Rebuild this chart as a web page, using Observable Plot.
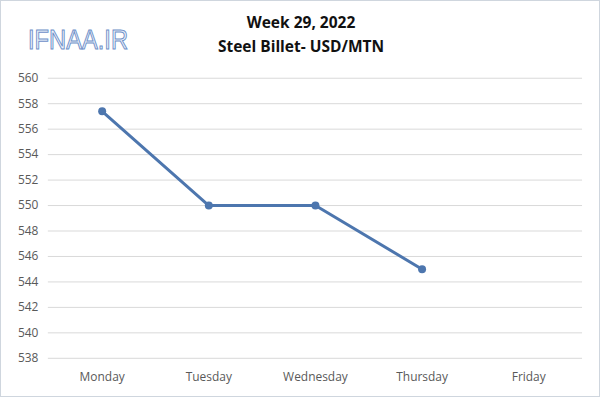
<!DOCTYPE html>
<html>
<head>
<meta charset="utf-8">
<script src="https://cdn.jsdelivr.net/npm/d3@7"></script>
<script src="https://cdn.jsdelivr.net/npm/@observablehq/plot@0.6"></script>
<style>
  html, body { margin: 0; padding: 0; background: #fff; }
  #wrap { position: relative; width: 600px; height: 397px; box-sizing: border-box; border: 1.5px solid #cfd6de; overflow: hidden; }
  #chart { position: absolute; left: 0; top: 0; }
  .title { position: absolute; left: 0; width: 600px; text-align: center; font-family: "Open Sans", sans-serif; font-weight: bold; font-size: 15.5px; color: #111; line-height: 20px; }
  #logo { position: absolute; left: 20px; top: 14px; }
</style>
</head>
<body>
<div id="wrap">
  <div id="chart"></div>
  <div class="title" style="top:11px">Week 29, 2022</div>
  <div class="title" style="top:35px">Steel Billet- USD/MTN</div>
  <svg id="logo" width="120" height="46"><text x="7" y="34" font-family="Liberation Sans Narrow, Liberation Sans, sans-serif" font-size="27" textLength="100" lengthAdjust="spacingAndGlyphs" fill="#eef3fb" stroke="#6d8fc8" stroke-width="1">IFNAA.IR</text></svg>
</div>
<script>
const days = ["Monday", "Tuesday", "Wednesday", "Thursday", "Friday"];
const priceDays = ["Monday", "Tuesday", "Wednesday", "Thursday"];
const prices = [557.4, 550, 550, 545];
const yTicks = [538, 540, 542, 544, 546, 548, 550, 552, 554, 556, 558, 560];

const data = priceDays.map((d, i) => ({day: d, price: prices[i]}));

const chart = Plot.plot({
  width: 600,
  height: 397,
  marginTop: 77,
  marginBottom: 39,
  marginLeft: 47,
  marginRight: 17,
  style: {fontFamily: "Open Sans, sans-serif", fontSize: "12px", color: "#595959", background: "transparent"},
  x: {type: "point", domain: days, padding: 0.5, label: null},
  y: {domain: [538, 560], label: null},
  marks: [
    Plot.gridY(yTicks, {stroke: "#d9d9d9", strokeOpacity: 1, strokeWidth: 1}),
    Plot.axisY(yTicks, {tickSize: 0, tickPadding: 10, fill: "#595959", fontSize: 12}),
    Plot.axisX({tickSize: 0, tickPadding: 14, fill: "#595959", fontSize: 12}),
    Plot.line(data, {x: "day", y: "price", stroke: "#4d76ae", strokeWidth: 3}),
    Plot.dot(data, {x: "day", y: "price", fill: "#4d76ae", r: 4})
  ]
});
document.getElementById("chart").appendChild(chart);
</script>
</body>
</html>
